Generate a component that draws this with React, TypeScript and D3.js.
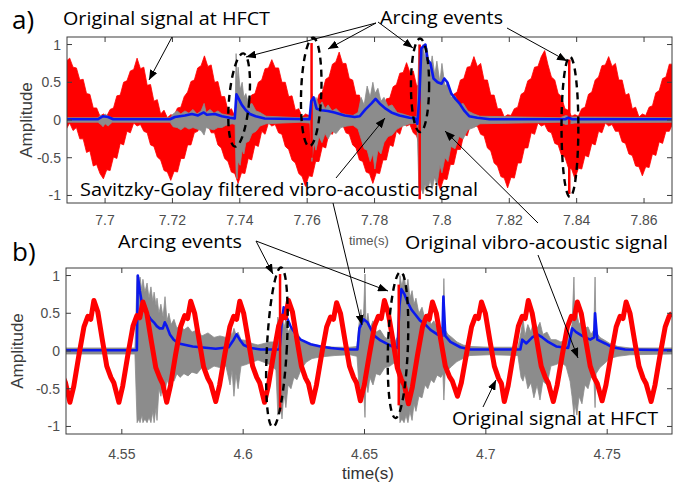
import React from 'react';
import * as d3 from 'd3';

// ---------- panel a: HFCT / vibro-acoustic record around 7.7-7.87 s ----------
const redStartA = 7.6885; // first envelope sample (s)
const redStepA = 0.001; // envelope sample spacing (s)
const redUpperA = [
  0.78, 0.82, 0.7, 0.69, 0.53, 0.54, 0.35, 0.34, 0.16, 0.16, 0.05, 0.08,
  0.05, 0.14, 0.16, 0.32, 0.33, 0.5, 0.52, 0.65, 0.67, 0.82, 0.68, 0.7, 0.46, 0.47, 0.25, 0.27, 0.08, 0.13, 0.03, 0.07,
  0.06, 0.16, 0.17, 0.31, 0.37, 0.51, 0.53, 0.69, 0.72, 0.85, 0.71, 0.73, 0.5, 0.51, 0.31, 0.31, 0.12, 0.15, 0.05, 0.08,
  0.06, 0.17, 0.19, 0.33, 0.35, 0.5, 0.53, 0.68, 0.69, 0.8, 0.69, 0.69, 0.5, 0.5, 0.31, 0.32, 0.13, 0.15, 0.04, 0.08,
  0.06, 0.15, 0.17, 0.34, 0.37, 0.54, 0.57, 0.74, 0.77, 0.9, 0.75, 0.75, 0.55, 0.53, 0.33, 0.33, 0.13, 0.15, 0.04, 0.07,
  0.05, 0.13, 0.13, 0.28, 0.29, 0.44, 0.47, 0.62, 0.63, 0.76, 0.63, 0.65, 0.45, 0.47, 0.29, 0.31, 0.13, 0.15, 0.04, 0.07,
  0.05, 0.15, 0.17, 0.34, 0.37, 0.53, 0.55, 0.7, 0.71, 0.84, 0.71, 0.75, 0.53, 0.53, 0.33, 0.33, 0.15, 0.15, 0.04, 0.07,
  0.06, 0.15, 0.17, 0.34, 0.37, 0.52, 0.55, 0.7, 0.71, 0.84, 0.92, 0.73, 0.57, 0.53, 0.35, 0.31, 0.15, 0.13, 0.05, 0.07,
  0.05, 0.15, 0.17, 0.34, 0.37, 0.53, 0.57, 0.72, 0.73, 0.84, 0.71, 0.75, 0.53, 0.53, 0.33, 0.35, 0.15, 0.17, 0.04, 0.08,
  0.06, 0.17, 0.19, 0.36, 0.39, 0.55, 0.57, 0.74, 0.74,
];
const redLowerA = [
  -0.12, -0.04, -0.14, -0.1, -0.25, -0.25, -0.43, -0.41, -0.61, -0.59, -0.71, -0.78,
  -0.66, -0.67, -0.49, -0.51, -0.31, -0.33, -0.15, -0.17, -0.04, -0.08, -0.06, -0.15, -0.17, -0.33, -0.35, -0.49, -0.53, -0.67, -0.69, -0.8,
  -0.68, -0.69, -0.51, -0.51, -0.33, -0.33, -0.17, -0.15, -0.05, -0.08, -0.06, -0.17, -0.17, -0.33, -0.37, -0.51, -0.55, -0.69, -0.71, -0.84,
  -0.7, -0.71, -0.51, -0.53, -0.33, -0.35, -0.15, -0.19, -0.04, -0.08, -0.06, -0.17, -0.19, -0.35, -0.39, -0.53, -0.57, -0.71, -0.75, -0.88,
  -0.74, -0.75, -0.55, -0.55, -0.35, -0.37, -0.17, -0.19, -0.04, -0.08, -0.06, -0.17, -0.19, -0.33, -0.37, -0.53, -0.55, -0.69, -0.71, -0.84,
  -0.7, -0.71, -0.53, -0.53, -0.33, -0.35, -0.15, -0.19, -0.04, -0.08, -0.06, -0.17, -0.21, -0.37, -0.41, -0.57, -0.61, -0.75, -0.79, -0.92,
  -0.78, -0.79, -0.59, -0.59, -0.39, -0.39, -0.19, -0.21, -0.06, -0.09, -0.08, -0.19, -0.21, -0.37, -0.41, -0.57, -0.61, -0.75, -0.77, -0.9,
  -0.76, -0.77, -0.57, -0.57, -0.37, -0.37, -0.17, -0.19, -0.04, -0.08, -0.06, -0.15, -0.17, -0.31, -0.33, -0.47, -0.49, -0.63, -0.65, -0.78,
  -0.64, -0.65, -0.47, -0.49, -0.31, -0.33, -0.15, -0.17, -0.04, -0.08, -0.06, -0.15, -0.15, -0.29, -0.31, -0.45, -0.47, -0.61, -0.62, -0.74,
  -0.62, -0.63, -0.45, -0.47, -0.29, -0.31, -0.15, -0.15, -0.05,
];
// arcing discharges seen on the HFCT channel
const arcTimesA = [7.7613, 7.7934, 7.8378];
const arcTopA = [1.02, 1.0, 0.8];
const arcBottomA = [-0.5, -1.05, -0.98];

// raw vibro-acoustic signal: upper / lower envelope
const grayTimesA = [
  7.6887, 7.6979, 7.6988, 7.6994, 7.7, 7.7009, 7.7021, 7.7193, 7.7202, 7.7214,
  7.7225, 7.7237, 7.7249, 7.7261, 7.7273, 7.7285, 7.7294, 7.73, 7.7312, 7.7323,
  7.7335, 7.7347, 7.7359, 7.7377, 7.7386, 7.7389, 7.7392, 7.7395, 7.7401, 7.7407,
  7.7412, 7.7418, 7.7427, 7.7436, 7.7448, 7.746, 7.7478, 7.7579, 7.7608, 7.7614,
  7.762, 7.7626, 7.7635, 7.7644, 7.7653, 7.7662, 7.7674, 7.7686, 7.77, 7.7718,
  7.7736, 7.7751, 7.776, 7.7769, 7.7778, 7.7787, 7.7795, 7.7801, 7.781, 7.7819,
  7.7828, 7.784, 7.7852, 7.7867, 7.7884, 7.7905, 7.7926, 7.7932, 7.7938, 7.7944,
  7.795, 7.7956, 7.7965, 7.7971, 7.7979, 7.7985, 7.7994, 7.8, 7.8009, 7.8018,
  7.8027, 7.8039, 7.8051, 7.8063, 7.8077, 7.8095, 7.8113, 7.8351, 7.8368, 7.838,
  7.8395, 7.8683,
];
const grayHiA = [
  0.03, 0.03, 0.07, 0.04, 0.08, 0.05, 0.03, 0.03, 0.08, 0.12,
  0.08, 0.12, 0.09, 0.14, 0.08, 0.12, 0.22, 0.1, 0.14, 0.09,
  0.12, 0.08, 0.07, 0.05, 0.06, 0.88, 0.5, 0.7, 0.4, 0.5,
  0.3, 0.35, 0.2, 0.22, 0.12, 0.1, 0.05, 0.03, 0.04, 0.35,
  0.2, 0.3, 0.18, 0.24, 0.15, 0.2, 0.12, 0.15, 0.09, 0.07,
  0.06, 0.1, 0.3, 0.2, 0.45, 0.3, 0.5, 0.35, 0.42, 0.25,
  0.3, 0.18, 0.2, 0.1, 0.08, 0.05, 0.04, 1.0, 0.75, 1.0,
  0.8, 0.95, 0.65, 0.85, 0.6, 0.78, 0.5, 0.75, 0.45, 0.5,
  0.3, 0.32, 0.2, 0.22, 0.12, 0.08, 0.05, 0.03, 0.06, 0.04,
  0.04, 0.03,
];
const grayLoA = [
  -0.03, -0.03, -0.06, -0.09, -0.05, -0.08, -0.03, -0.03, -0.09, -0.1,
  -0.13, -0.09, -0.12, -0.1, -0.12, -0.14, -0.2, -0.1, -0.12, -0.13,
  -0.1, -0.1, -0.07, -0.05, -0.06, -0.7, -0.78, -0.55, -0.6, -0.4,
  -0.45, -0.3, -0.28, -0.18, -0.15, -0.08, -0.05, -0.03, -0.04, -0.55,
  -0.3, -0.4, -0.22, -0.3, -0.18, -0.25, -0.15, -0.18, -0.1, -0.08,
  -0.07, -0.12, -0.25, -0.38, -0.4, -0.55, -0.45, -0.65, -0.4, -0.45,
  -0.3, -0.22, -0.2, -0.12, -0.08, -0.05, -0.04, -0.95, -0.9, -0.98,
  -0.85, -0.95, -0.8, -0.92, -0.75, -0.88, -0.6, -0.7, -0.5, -0.55,
  -0.35, -0.38, -0.22, -0.25, -0.13, -0.1, -0.05, -0.03, -0.06, -0.05,
  -0.04, -0.03,
];
// Savitzky-Golay filtered vibro-acoustic signal
const blueTimesA = [
  7.6885, 7.6979, 7.6994, 7.7009, 7.7024, 7.7193, 7.7207, 7.7237, 7.7258, 7.7276, 7.7293, 7.7302, 7.7326, 7.7347,
  7.737, 7.7385, 7.739, 7.7397, 7.7406, 7.7418, 7.743, 7.7447, 7.7474, 7.7607, 7.7612, 7.7619, 7.7628, 7.7643,
  7.7661, 7.7681, 7.7711, 7.7741, 7.7756, 7.7773, 7.7791, 7.7803, 7.7815, 7.7833, 7.785, 7.7874, 7.7904, 7.7921,
  7.7927, 7.7933, 7.7939, 7.7951, 7.7957, 7.7966, 7.7975, 7.7987, 7.7999, 7.8007, 7.8016, 7.8028, 7.804, 7.8052,
  7.8067, 7.8081, 7.8105, 7.8141, 7.8366, 7.8375, 7.8387, 7.8685,
];
const blueValsA = [
  0.01, 0.01, 0.05, 0.04, 0.01, 0.01, 0.04, 0.06, 0.08, 0.06, 0.1, 0.07, 0.08, 0.05, 0.03, 0.02, 0.34, 0.28, 0.2,
  0.13, 0.08, 0.05, 0.02, 0.01, 0.25, 0.3, 0.15, 0.13, 0.12, 0.1, 0.06, 0.04, 0.05, 0.14, 0.22, 0.28, 0.22, 0.15,
  0.1, 0.06, 0.03, 0.02, -0.05, 0.3, 0.95, 1.0, 0.8, 0.75, 0.55, 0.5, 0.48, 0.55, 0.5, 0.35, 0.28, 0.22, 0.12, 0.05,
  0.03, 0.01, 0.01, 0.03, 0.01, 0.01,
];
const xTicksA = [7.7, 7.72, 7.74, 7.76, 7.78, 7.8, 7.82, 7.84, 7.86];
const xTickLabelsA = ['7.7', '7.72', '7.74', '7.76', '7.78', '7.8', '7.82', '7.84', '7.86'];

// ---------- panel b: record around 4.53-4.78 s ----------
const redTimesB = [
  4.5256, 4.5268,
  4.5286, 4.5302, 4.5323, 4.5344, 4.536, 4.5372, 4.5385, 4.5401, 4.5418, 4.5438, 4.5455, 4.5467,
  4.5488, 4.5504, 4.5525, 4.5546, 4.5562, 4.5574, 4.5587, 4.5603, 4.562, 4.564, 4.5657, 4.5669,
  4.5685, 4.5701, 4.5722, 4.5743, 4.5759, 4.5771, 4.5784, 4.58, 4.5817, 4.5837, 4.5854, 4.5866,
  4.5887, 4.5903, 4.5924, 4.5945, 4.5961, 4.5973, 4.5986, 4.6002, 4.6019, 4.6039, 4.6056, 4.6068,
  4.6088, 4.6104, 4.6125, 4.6146, 4.6162, 4.6174, 4.6187, 4.6203, 4.622, 4.624, 4.6257, 4.6269,
  4.6286, 4.6302, 4.6323, 4.6344, 4.636, 4.6372, 4.6385, 4.6401, 4.6418, 4.6438, 4.6455, 4.6467,
  4.6483, 4.6499, 4.652, 4.6541, 4.6557, 4.6569, 4.6582, 4.6598, 4.6615, 4.6635, 4.6652, 4.6664,
  4.6681, 4.6697, 4.6718, 4.6739, 4.6755, 4.6767, 4.678, 4.6796, 4.6813, 4.6833, 4.685, 4.6862,
  4.6883, 4.6899, 4.692, 4.6941, 4.6957, 4.6969, 4.6982, 4.6998, 4.7015, 4.7035, 4.7052, 4.7064,
  4.7076, 4.7092, 4.7113, 4.7134, 4.715, 4.7162, 4.7175, 4.7191, 4.7208, 4.7228, 4.7245, 4.7257,
  4.7278, 4.7294, 4.7315, 4.7336, 4.7352, 4.7364, 4.7377, 4.7393, 4.741, 4.743, 4.7447, 4.7459,
  4.7479, 4.7495, 4.7516, 4.7537, 4.7553, 4.7565, 4.7578, 4.7594, 4.7611, 4.7631, 4.7648, 4.766,
  4.7681, 4.7697, 4.7718, 4.7739, 4.7755, 4.7767,
];
const redValsB = [
  -0.33, -0.42,
  -0.68, -0.47, -0.06, 0.32, 0.46, 0.42, 0.67, 0.52, 0.18, -0.2, -0.35, -0.42,
  -0.68, -0.46, -0.05, 0.33, 0.47, 0.44, 0.65, 0.5, 0.16, -0.22, -0.36, -0.44,
  -0.68, -0.45, -0.04, 0.33, 0.47, 0.43, 0.66, 0.5, 0.17, -0.21, -0.36, -0.43,
  -0.67, -0.45, -0.05, 0.32, 0.46, 0.42, 0.66, 0.5, 0.18, -0.2, -0.35, -0.42,
  -0.68, -0.46, -0.05, 0.33, 0.46, 0.44, 0.67, 0.52, 0.18, -0.2, -0.36, -0.43,
  -0.68, -0.45, -0.05, 0.32, 0.45, 0.42, 0.64, 0.5, 0.17, -0.2, -0.35, -0.42,
  -0.66, -0.45, -0.05, 0.33, 0.46, 0.43, 0.67, 0.5, 0.18, -0.22, -0.38, -0.45,
  -0.7, -0.48, -0.06, 0.32, 0.46, 0.42, 0.65, 0.5, 0.17, -0.2, -0.34, -0.4,
  -0.6, -0.42, -0.04, 0.32, 0.46, 0.43, 0.65, 0.5, 0.17, -0.2, -0.36, -0.43,
  -0.67, -0.46, -0.05, 0.33, 0.46, 0.43, 0.67, 0.5, 0.18, -0.2, -0.35, -0.42,
  -0.67, -0.45, -0.05, 0.32, 0.46, 0.43, 0.65, 0.5, 0.17, -0.2, -0.36, -0.43,
  -0.66, -0.45, -0.05, 0.32, 0.46, 0.43, 0.65, 0.5, 0.17, -0.2, -0.36, -0.43,
  -0.67, -0.45, -0.05, 0.32, 0.46, 0.5,
];
const arcTimesB = [4.6152, 4.6641];
const arcTopB = [1.02, 0.88];
const arcBottomB = [-0.8, -0.72];

const grayTimesB = [
  4.527, 4.5554, 4.5563, 4.5571, 4.5575, 4.5583, 4.5587, 4.5595, 4.5604, 4.5612,
  4.562, 4.5628, 4.5633, 4.5641, 4.5645, 4.5653, 4.5661, 4.567, 4.5678, 4.5686,
  4.5694, 4.5703, 4.5715, 4.5727, 4.574, 4.5756, 4.5773, 4.5789, 4.581, 4.583,
  4.5855, 4.588, 4.5904, 4.5929, 4.5946, 4.5954, 4.5962, 4.597, 4.5979, 4.5991,
  4.6012, 4.6036, 4.6061, 4.6086, 4.611, 4.6135, 4.6143, 4.6152, 4.616, 4.6168,
  4.6176, 4.6185, 4.6197, 4.6209, 4.6222, 4.6238, 4.6259, 4.6284, 4.6316, 4.6378,
  4.644, 4.6469, 4.6477, 4.6485, 4.6494, 4.6502, 4.6506, 4.6514, 4.6522, 4.6535,
  4.6547, 4.6564, 4.6584, 4.6605, 4.6625, 4.6638, 4.6646, 4.6654, 4.6663, 4.6671,
  4.6679, 4.6687, 4.6696, 4.6704, 4.6712, 4.6724, 4.6737, 4.6749, 4.6761, 4.6774,
  4.6786, 4.6799, 4.6815, 4.6823, 4.6827, 4.6832, 4.6844, 4.686, 4.6881, 4.6906,
  4.6934, 4.7017, 4.7132, 4.7145, 4.7153, 4.7161, 4.7173, 4.7186, 4.7198, 4.7211,
  4.7223, 4.7235, 4.7252, 4.7268, 4.7289, 4.7309, 4.733, 4.7347, 4.7355, 4.7363,
  4.7367, 4.7375, 4.7384, 4.7396, 4.7408, 4.7421, 4.7433, 4.7445, 4.745, 4.7454,
  4.747, 4.7491, 4.7511, 4.7544, 4.7594, 4.7767,
];
const grayHiB = [
  0.04, 0.04, 1.0, 0.85, 0.98, 0.8, 0.95, 0.78, 0.9, 0.7,
  0.85, 0.65, 0.78, 0.6, 0.7, 0.5, 0.62, 0.45, 0.72, 0.4,
  0.5, 0.35, 0.42, 0.3, 0.35, 0.28, 0.32, 0.25, 0.28, 0.2,
  0.24, 0.18, 0.2, 0.18, 0.28, 0.2, 0.3, 0.22, 0.25, 0.15,
  0.14, 0.1, 0.08, 0.1, 0.12, 0.12, 0.45, 0.3, 0.5, 0.3,
  0.42, 0.25, 0.32, 0.2, 0.25, 0.15, 0.12, 0.09, 0.07, 0.05,
  0.05, 0.06, 0.35, 0.55, 0.3, 1.02, 0.35, 0.5, 0.3, 0.4,
  0.25, 0.28, 0.18, 0.15, 0.12, 0.2, 1.0, 0.85, 1.02, 0.8,
  0.95, 0.7, 0.8, 0.62, 0.7, 0.5, 0.58, 0.42, 0.5, 0.35,
  0.4, 0.3, 0.32, 0.3, 0.96, 0.28, 0.22, 0.18, 0.12, 0.08,
  0.06, 0.05, 0.05, 0.25, 0.45, 0.2, 0.35, 0.25, 0.42, 0.3,
  0.38, 0.22, 0.25, 0.15, 0.15, 0.12, 0.15, 0.25, 0.35, 0.98,
  0.4, 0.5, 0.35, 0.42, 0.3, 0.32, 0.22, 0.28, 0.98, 0.25,
  0.18, 0.14, 0.1, 0.06, 0.04, 0.04,
];
const grayLoB = [
  -0.04, -0.04, -0.95, -0.9, -0.95, -0.85, -0.95, -0.9, -0.95, -0.88,
  -0.95, -0.8, -0.95, -0.75, -0.92, -0.5, -0.6, -0.42, -0.55, -0.38,
  -0.45, -0.35, -0.4, -0.3, -0.35, -0.3, -0.33, -0.28, -0.3, -0.22,
  -0.25, -0.2, -0.22, -0.2, -0.45, -0.25, -0.6, -0.3, -0.5, -0.2,
  -0.18, -0.15, -0.12, -0.15, -0.18, -0.25, -0.85, -0.6, -0.9, -0.55,
  -0.75, -0.45, -0.5, -0.35, -0.38, -0.25, -0.15, -0.1, -0.08, -0.06,
  -0.05, -0.07, -0.45, -0.5, -0.35, -0.88, -0.4, -0.55, -0.35, -0.45,
  -0.3, -0.32, -0.22, -0.2, -0.15, -0.3, -0.95, -0.9, -0.95, -0.85,
  -0.95, -0.8, -0.92, -0.7, -0.8, -0.6, -0.62, -0.45, -0.5, -0.38,
  -0.42, -0.32, -0.35, -0.3, -0.65, -0.3, -0.25, -0.2, -0.14, -0.1,
  -0.06, -0.05, -0.06, -0.35, -0.4, -0.3, -0.5, -0.42, -0.62, -0.45,
  -0.65, -0.4, -0.45, -0.2, -0.18, -0.15, -0.2, -0.4, -0.6, -0.85,
  -0.7, -0.85, -0.6, -0.7, -0.45, -0.5, -0.35, -0.35, -0.75, -0.3,
  -0.22, -0.16, -0.1, -0.07, -0.05, -0.04,
];
const blueTimesB = [
  4.527, 4.5562, 4.5566, 4.5574, 4.5582, 4.5595, 4.5607, 4.5619, 4.5632, 4.5644,
  4.5656, 4.5669, 4.5677, 4.5685, 4.5698, 4.5714, 4.5735, 4.5763, 4.5792, 4.5825,
  4.5887, 4.594, 4.5961, 4.5973, 4.5986, 4.6002, 4.6031, 4.6072, 4.615, 4.6158,
  4.6167, 4.6179, 4.6195, 4.6216, 4.6237, 4.6278, 4.6319, 4.636, 4.6422, 4.6471,
  4.6479, 4.6496, 4.6512, 4.6525, 4.6541, 4.6566, 4.6607, 4.6636, 4.6644, 4.6652,
  4.6665, 4.6677, 4.6693, 4.671, 4.673, 4.6751, 4.6772, 4.68, 4.6821, 4.6825,
  4.6833, 4.6854, 4.6895, 4.6936, 4.7142, 4.715, 4.7167, 4.7191, 4.7212, 4.7233,
  4.7257, 4.729, 4.7339, 4.7356, 4.7372, 4.7397, 4.743, 4.7446, 4.745, 4.7459,
  4.7492, 4.752, 4.7574, 4.7767,
];
const blueValsB = [
  0.01, 0.01, 1.0, 0.8, 0.65, 0.55, 0.48, 0.42, 0.38, 0.33,
  0.3, 0.3, 0.38, 0.33, 0.22, 0.15, 0.1, 0.08, 0.06, 0.05,
  0.03, 0.05, 0.15, 0.22, 0.15, 0.08, 0.04, 0.02, 0.02, 0.35,
  0.58, 0.45, 0.33, 0.22, 0.15, 0.09, 0.06, 0.04, 0.02, 0.02,
  0.3, 0.42, 0.38, 0.3, 0.2, 0.14, 0.07, 0.04, 0.6, 0.82,
  0.75, 0.65, 0.55, 0.48, 0.4, 0.35, 0.28, 0.22, 0.2, 0.72,
  0.2, 0.12, 0.05, 0.02, 0.02, 0.15, 0.1, 0.18, 0.22, 0.18,
  0.12, 0.06, 0.04, 0.3, 0.25, 0.2, 0.15, 0.18, 0.5, 0.15,
  0.1, 0.05, 0.02, 0.01,
];
const xTicksB = [4.55, 4.6, 4.65, 4.7, 4.75];
const xTickLabelsB = ['4.55', '4.6', '4.65', '4.7', '4.75'];

const yTicks = [-1, -0.5, 0, 0.5, 1];
const yTickLabels = ['-1', '-0.5', '0', '0.5', '1'];

// dashed ellipses around the arcing events (centre time, centre amplitude, half-width s, half-height)
const ringsA = [
  { t: 7.7398, v: 0.265, rt: 0.003, rv: 0.62, tilt: 5 },
  { t: 7.7612, v: 0.37, rt: 0.003, rv: 0.72, tilt: 2 },
  { t: 7.7935, v: 0.46, rt: 0.0027, rv: 0.62, tilt: 0 },
  { t: 7.838, v: -0.09, rt: 0.0025, rv: 0.93, tilt: 0 },
];
const ringsB = [
  { t: 4.6139, v: 0.05, rt: 0.0041, rv: 1.06, tilt: 3 },
  { t: 4.6638, v: 0.08, rt: 0.0041, rv: 0.97, tilt: 2 },
];

// ---------- layout ----------
const W = 675;
const H = 488;
const FRAME_A = { left: 67, right: 672, top: 37, bottom: 203 };
const FRAME_B = { left: 66, right: 672, top: 268, bottom: 434 };
const Y_DOMAIN: [number, number] = [-1.1, 1.1];

const RED = '#ff0000';
const BLUE = '#0b18ee';
const GRAY = '#8c8c8c';
const AXIS = '#3c3c3c';
const TICK_TEXT = '#4d4d4d';
const NOTE_FONT = "'Open Sans', 'Noto Sans', sans-serif";
const AXIS_FONT = "'Liberation Sans', Arial, sans-serif";

// leader arrows from the notes [x1, y1, x2, y2]
const LEADERS = [
  [172, 37, 149, 80],
  [376, 23, 246, 57],
  [376, 23, 328, 49],
  [378, 22, 413, 48],
  [507, 28, 567, 61],
  [336, 178, 385, 118],
  [333, 203, 362, 325],
  [538, 223, 445, 131],
  [538, 255, 578, 358],
  [256, 241, 273, 274],
  [256, 241, 388, 291],
  [483, 407, 496, 380],
];

const NOTES = [
  { text: 'a)', x: 12, y: 29, size: 26 },
  { text: 'Original signal at HFCT', x: 63, y: 25, size: 19, len: 207 },
  { text: 'Arcing events', x: 380, y: 24, size: 19, len: 123 },
  { text: 'Savitzky-Golay filtered vibro-acoustic signal', x: 80, y: 196, size: 19, len: 398 },
  { text: 'Original vibro-acoustic signal', x: 405, y: 249, size: 19, len: 263 },
  { text: 'b)', x: 12, y: 261, size: 26 },
  { text: 'Arcing events', x: 118, y: 248, size: 19, len: 124 },
  { text: 'Original signal at HFCT', x: 452, y: 425, size: 19, len: 206 },
];

type Frame = { left: number; right: number; top: number; bottom: number };

function Axes(props: {
  frame: Frame;
  x: d3.ScaleLinear<number, number>;
  y: d3.ScaleLinear<number, number>;
  xTicks: number[];
  xLabels: string[];
  xLabelY: number;
  yTitleX: number;
  timeLabel: { x: number; y: number; size: number; color: string };
}) {
  const { frame, x, y, xTicks, xLabels, xLabelY, yTitleX, timeLabel } = props;
  const midY = (frame.top + frame.bottom) / 2;
  return (
    <g>
      <rect
        x={frame.left}
        y={frame.top}
        width={frame.right - frame.left}
        height={frame.bottom - frame.top}
        fill="none"
        stroke={AXIS}
        strokeWidth={1}
      />
      {xTicks.map((t, i) => (
        <g key={'x' + i}>
          <line x1={x(t)} x2={x(t)} y1={frame.bottom} y2={frame.bottom - 5} stroke={AXIS} />
          <line x1={x(t)} x2={x(t)} y1={frame.top} y2={frame.top + 5} stroke={AXIS} />
          <text
            x={x(t)}
            y={xLabelY}
            textAnchor="middle"
            fontFamily={AXIS_FONT}
            fontSize={14}
            fill={TICK_TEXT}
          >
            {xLabels[i]}
          </text>
        </g>
      ))}
      {yTicks.map((v, i) => (
        <g key={'y' + i}>
          <line x1={frame.left} x2={frame.left + 5} y1={y(v)} y2={y(v)} stroke={AXIS} />
          <line x1={frame.right} x2={frame.right - 5} y1={y(v)} y2={y(v)} stroke={AXIS} />
          <text
            x={frame.left - 6}
            y={y(v) + 5}
            textAnchor="end"
            fontFamily={AXIS_FONT}
            fontSize={14}
            fill={TICK_TEXT}
          >
            {yTickLabels[i]}
          </text>
        </g>
      ))}
      <text
        transform={`translate(${yTitleX},${midY}) rotate(-90)`}
        textAnchor="middle"
        fontFamily={AXIS_FONT}
        fontSize={17}
        fill="#3a3a3a"
      >
        Amplitude
      </text>
      <text
        x={timeLabel.x}
        y={timeLabel.y}
        fontFamily={AXIS_FONT}
        fontSize={timeLabel.size}
        fill={timeLabel.color}
      >
        time(s)
      </text>
    </g>
  );
}

function Rings(props: {
  rings: { t: number; v: number; rt: number; rv: number; tilt: number }[];
  x: d3.ScaleLinear<number, number>;
  y: d3.ScaleLinear<number, number>;
}) {
  const { rings, x, y } = props;
  return (
    <g>
      {rings.map((r, i) => {
        const cx = x(r.t);
        const cy = y(r.v);
        const rx = x(r.t + r.rt) - cx;
        const ry = y(r.v - r.rv) - cy;
        return (
          <ellipse
            key={i}
            cx={cx}
            cy={cy}
            rx={rx}
            ry={ry}
            transform={`rotate(${r.tilt},${cx},${cy})`}
            fill="none"
            stroke="#000"
            strokeWidth={2.4}
            strokeDasharray="7,5"
          />
        );
      })}
    </g>
  );
}

export default function App() {
  const xA = d3.scaleLinear().domain([7.6887, 7.8683]).range([FRAME_A.left, FRAME_A.right]);
  const yA = d3.scaleLinear().domain(Y_DOMAIN).range([FRAME_A.bottom, FRAME_A.top]);
  const xB = d3.scaleLinear().domain([4.527, 4.7767]).range([FRAME_B.left, FRAME_B.right]);
  const yB = d3.scaleLinear().domain(Y_DOMAIN).range([FRAME_B.bottom, FRAME_B.top]);

  const redAreaA = d3
    .area<number>()
    .x((_, i) => xA(redStartA + i * redStepA))
    .y0((_, i) => yA(redLowerA[i]))
    .y1((d) => yA(d))(redUpperA) as string;

  const grayAreaA = d3
    .area<number>()
    .x((t) => xA(t))
    .y0((_, i) => yA(grayLoA[i]))
    .y1((_, i) => yA(grayHiA[i]))(grayTimesA) as string;

  const blueLineA = d3
    .line<number>()
    .x((t) => xA(t))
    .y((_, i) => yA(blueValsA[i]))(blueTimesA) as string;

  const grayAreaB = d3
    .area<number>()
    .x((t) => xB(t))
    .y0((_, i) => yB(grayLoB[i]))
    .y1((_, i) => yB(grayHiB[i]))(grayTimesB) as string;

  const blueLineB = d3
    .line<number>()
    .x((t) => xB(t))
    .y((_, i) => yB(blueValsB[i]))(blueTimesB) as string;

  const redLineB = d3
    .line<number>()
    .x((t) => xB(t))
    .y((_, i) => yB(redValsB[i]))(redTimesB) as string;

  return (
    <svg
      width={W}
      height={H}
      viewBox={`0 0 ${W} ${H}`}
      style={{ position: 'absolute', left: 0, top: 0, background: '#fff' }}
    >
      <defs>
        <clipPath id="clip-a">
          <rect
            x={FRAME_A.left}
            y={FRAME_A.top}
            width={FRAME_A.right - FRAME_A.left}
            height={FRAME_A.bottom - FRAME_A.top}
          />
        </clipPath>
        <clipPath id="clip-b">
          <rect
            x={FRAME_B.left}
            y={FRAME_B.top}
            width={FRAME_B.right - FRAME_B.left}
            height={FRAME_B.bottom - FRAME_B.top}
          />
        </clipPath>
        <marker
          id="head"
          viewBox="0 0 10 8"
          refX={10}
          refY={4}
          markerWidth={10}
          markerHeight={8}
          markerUnits="userSpaceOnUse"
          orient="auto"
        >
          <path d="M0,0L10,4L0,8Z" fill="#000" />
        </marker>
      </defs>
      <rect x={0} y={0} width={W} height={H} fill="#fff" />

      {/* panel a */}
      <g clipPath="url(#clip-a)">
        <path d={redAreaA} fill={RED} stroke={RED} strokeWidth={0.8} />
        <path d={grayAreaA} fill={GRAY} stroke={GRAY} strokeWidth={0.8} />
        {arcTimesA.map((t, i) => (
          <line
            key={i}
            x1={xA(t)}
            x2={xA(t)}
            y1={yA(arcTopA[i])}
            y2={yA(arcBottomA[i])}
            stroke={RED}
            strokeWidth={2.5}
          />
        ))}
        <path d={blueLineA} fill="none" stroke={BLUE} strokeWidth={2.6} strokeLinejoin="round" />
      </g>
      <Axes
        frame={FRAME_A}
        x={xA}
        y={yA}
        xTicks={xTicksA}
        xLabels={xTickLabelsA}
        xLabelY={225}
        yTitleX={32}
        timeLabel={{ x: 349, y: 245, size: 13, color: '#555' }}
      />
      <Rings rings={ringsA} x={xA} y={yA} />

      {/* panel b */}
      <g clipPath="url(#clip-b)">
        <path d={grayAreaB} fill={GRAY} stroke={GRAY} strokeWidth={0.8} />
        <path d={blueLineB} fill="none" stroke={BLUE} strokeWidth={2.6} strokeLinejoin="round" />
        <path d={redLineB} fill="none" stroke={RED} strokeWidth={5} strokeLinejoin="round" />
        {arcTimesB.map((t, i) => (
          <line
            key={i}
            x1={xB(t)}
            x2={xB(t)}
            y1={yB(arcTopB[i])}
            y2={yB(arcBottomB[i])}
            stroke={RED}
            strokeWidth={2.5}
          />
        ))}
      </g>
      <Axes
        frame={FRAME_B}
        x={xB}
        y={yB}
        xTicks={xTicksB}
        xLabels={xTickLabelsB}
        xLabelY={459}
        yTitleX={23}
        timeLabel={{ x: 342, y: 479, size: 17, color: '#333' }}
      />
      <Rings rings={ringsB} x={xB} y={yB} />

      {/* notes and leaders */}
      {LEADERS.map(([x1, y1, x2, y2], i) => (
        <line key={i} x1={x1} y1={y1} x2={x2} y2={y2} stroke="#000" strokeWidth={1} markerEnd="url(#head)" />
      ))}
      {NOTES.map((n, i) => (
        <text
          key={i}
          x={n.x}
          y={n.y}
          fontFamily={NOTE_FONT}
          fontSize={n.size}
          fill="#000"
          textLength={n.len}
          lengthAdjust={n.len ? 'spacingAndGlyphs' : undefined}
        >
          {n.text}
        </text>
      ))}
    </svg>
  );
}
